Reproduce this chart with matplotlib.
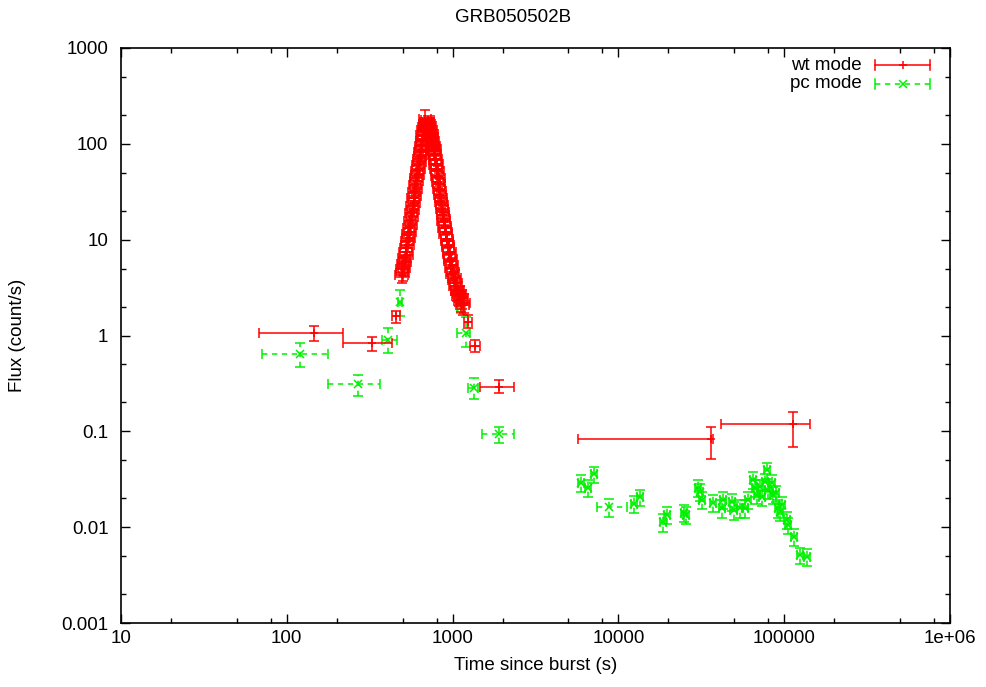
import matplotlib
matplotlib.use("Agg")
import matplotlib.pyplot as plt
import numpy as np
from matplotlib.ticker import FixedLocator, FixedFormatter, NullFormatter

plt.rcParams['font.family'] = ['Liberation Sans', 'DejaVu Sans']

# ---------------- data ----------------
title = "GRB050502B"
xlabel = "Time since burst (s)"
ylabel = "Flux (count/s)"
series_names = ["wt mode", "pc mode"]

# wt mode: isolated points (asymmetric errors)
wt_t   = [146, 327, 456, 1239, 1365, 1905, 36200, 113000]
wt_tlo = [68, 218, 431, 1170, 1280, 1462, 5700, 41600]
wt_thi = [218, 431, 482, 1310, 1460, 2344, 37000, 143000]
wt_f   = [1.06, 0.83, 1.6, 1.38, 0.78, 0.29, 0.083, 0.119]
wt_flo = [0.877, 0.689, 1.36, 1.20, 0.67, 0.25, 0.0514, 0.0686]
wt_fhi = [1.26, 0.964, 1.8, 1.64, 0.90, 0.343, 0.111, 0.159]

# wt mode: flare
flare_t = [494, 497, 501, 505, 509, 513, 517, 521, 525, 529, 533, 537,
           541, 545, 549, 553, 557, 561, 565, 569, 573, 577, 581, 585, 589, 593,
           597, 601, 605, 609, 613, 617, 621, 625, 629, 633, 637, 641, 645, 649,
           653, 657, 661, 665, 669, 673, 677, 682, 685, 689, 693, 697,
           700, 704, 708, 712, 716, 720, 724, 728, 732, 736, 740, 744, 748, 752,
           756, 760, 764, 768, 772, 776, 780, 784, 788, 792, 796, 800, 805, 810,
           815, 820, 825, 830, 835, 840, 845, 850, 856, 862, 868, 874, 880, 886,
           892, 898, 904, 910, 917, 924, 931, 938, 945, 952, 960, 968, 976, 984,
           992, 1000, 1010, 1020, 1030, 1040, 1052, 1064, 1076, 1090, 1104, 1118,
           1134, 1150, 1168]
flare_f = [4.3, 4.9, 4.5, 5.6, 5.1, 6.4, 5.8, 7.4, 8.1, 7.0, 9.6, 8.8,
           11.5, 10.4, 13.2, 12.0, 15.8, 14.1, 19.0, 17.2, 22.5, 20.4, 27.0, 24.3, 31.5, 28.8,
           37.0, 34.0, 44.0, 40.5, 52.0, 47.0, 60.0, 55.0, 70.0, 64.0, 82.0, 74.0, 95.0, 86.0,
           108.0, 98.0, 125.0, 112.0, 138.0, 120.0, 150.0, 180.0, 162.0, 140.0, 170.0, 150.0,
           165, 140, 178, 150, 168, 135, 160, 128, 152, 118, 140, 110, 128, 100,
           118, 92, 106, 84, 96, 76, 88, 68, 78, 60, 70, 54, 62, 46,
           52, 40, 44, 34, 38, 29, 32, 25, 27, 21, 23, 18, 19.5, 15.5,
           16.5, 13.2, 14.0, 11.4, 12.0, 9.8, 10.2, 8.3, 8.7, 7.1, 7.4, 6.0, 6.3, 5.1,
           5.4, 4.4, 4.6, 3.8, 4.0, 3.3, 3.5, 2.9, 3.0, 2.6, 2.7, 2.3,
           2.45, 2.1, 2.2]
flare_e = [0.8, 0.85, 0.8, 0.95, 0.9, 1.1, 1.0, 1.2, 1.3, 1.15, 1.5, 1.4,
           1.7, 1.6, 1.9, 1.8, 2.2, 2.0, 2.6, 2.4, 3.0, 2.8, 3.5, 3.2, 4.0, 3.7,
           4.6, 4.3, 5.3, 5.0, 6.2, 5.7, 7.0, 6.5, 8.0, 7.4, 9.2, 8.4, 10.5, 9.6,
           11.8, 10.9, 13.5, 12.2, 14.8, 13.0, 16.0, 45.0, 17.0, 15.0, 18.0, 16.0,
           17.5, 15.0, 18.5, 16.0, 17.8, 14.6, 17.0, 14.0, 16.2, 13.0, 15.0, 12.2, 14.0, 11.2,
           13.0, 10.4, 11.8, 9.6, 10.8, 8.8, 10.0, 8.0, 9.0, 7.2, 8.2, 6.6, 7.4, 5.8,
           6.4, 5.1, 5.5, 4.5, 4.9, 3.9, 4.2, 3.4, 3.7, 3.0, 3.2, 2.6, 2.8, 2.3,
           2.4, 2.0, 2.1, 1.8, 1.9, 1.6, 1.65, 1.4, 1.45, 1.25, 1.3, 1.1, 1.15, 0.95,
           1.0, 0.85, 0.9, 0.75, 0.8, 0.68, 0.72, 0.62, 0.64, 0.56, 0.58, 0.52,
           0.55, 0.48, 0.5]
flare_dt_frac = 0.085   # horizontal half-width of the flare bins (fraction of t)

# pc mode: early points (asymmetric errors)
pc_t   = [120, 268, 407, 482, 1125, 1205, 1346, 1905]
pc_tlo = [70.8, 177, 375, 470, 1060, 1060, 1240, 1500]
pc_thi = [177, 365, 462, 495, 1190, 1280, 1420, 2344]
pc_f   = [0.64, 0.31, 0.90, 2.24, 1.98, 1.06, 0.283, 0.094]
pc_flo = [0.469, 0.232, 0.65, 1.6, 1.7, 0.76, 0.215, 0.075]
pc_fhi = [0.835, 0.391, 1.2, 3.0, 2.8, 1.57, 0.36, 0.112]

# pc mode: late points
pcl_t = [5945, 6560, 7130, 8770, 12420, 13490, 18580, 19630, 24870, 25570,
         30200, 31050, 31920, 37200, 42170, 42770, 48440, 49500, 54100, 58000,
         60500, 64860, 66680, 68550, 71450, 73470, 76560, 78700, 79800, 84370,
         85500, 89250, 91750, 94320, 97000, 104000, 105400, 114600, 124500, 137400]
pcl_f = [0.0289, 0.0256, 0.0359, 0.0162, 0.0175, 0.0206, 0.0113, 0.0134, 0.0141, 0.0134,
         0.0256, 0.0235, 0.0192, 0.0179, 0.0158, 0.0192, 0.0183, 0.0151, 0.0158, 0.0158,
         0.0192, 0.0311, 0.0256, 0.0217, 0.0262, 0.0206, 0.0296, 0.0395, 0.0244, 0.0289,
         0.0217, 0.0227, 0.0158, 0.0144, 0.0170, 0.0119, 0.0105, 0.0079, 0.0051, 0.0049]
pcl_e = [0.0058, 0.0052, 0.0068, 0.0033, 0.0036, 0.0041, 0.0024, 0.0027, 0.0028, 0.0027,
         0.0052, 0.0047, 0.0039, 0.0036, 0.0032, 0.0039, 0.0037, 0.0031, 0.0032, 0.0032,
         0.0039, 0.0062, 0.0051, 0.0044, 0.0052, 0.0041, 0.0059, 0.0075, 0.0049, 0.0058,
         0.0044, 0.0045, 0.0032, 0.0029, 0.0034, 0.0024, 0.0021, 0.0016, 0.0010, 0.0010]
pcl_dtlo = [250, 280, 300, 1340, 520, 560, 780, 820, 1040, 1070,
            1260, 1300, 1330, 1560, 1760, 1790, 2020, 2070, 2260, 2420,
            2530, 2710, 2790, 2870, 2990, 3070, 3200, 3290, 3340, 3530,
            3580, 3730, 3840, 3940, 4060, 4350, 4410, 4790, 5210, 5750]
pcl_dthi = [250, 280, 300, 2500, 520, 560, 780, 820, 1040, 1070,
            1260, 1300, 1330, 1560, 1760, 1790, 2020, 2070, 2260, 2420,
            2530, 2710, 2790, 2870, 2990, 3070, 3200, 3290, 3340, 3530,
            3580, 3730, 3840, 3940, 4060, 4350, 4410, 4790, 5210, 5750]

xticks = [10, 100, 1000, 10000, 100000, 1000000]
xticklabels = ["10", "100", "1000", "10000", "100000", "1e+06"]
yticks = [0.001, 0.01, 0.1, 1, 10, 100, 1000]
yticklabels = ["0.001", "0.01", "0.1", "1", "10", "100", "1000"]

# ---------------- plot ----------------
RED = "#ff0000"
GREEN = "#00f000"
FS = 13.5
W, H = 987, 687

fig = plt.figure(figsize=(W / 100, H / 100), dpi=100)
ax = fig.add_axes([121/W, 1-623/H, 829/W, 575/H])
ax.set_xscale("log")
ax.set_yscale("log")
ax.set_xlim(10, 1e6)
ax.set_ylim(1e-3, 1e3)


def draw(t, f, xl, xh, yl, yh, color, marker, dashed):
    t = np.asarray(t, float); f = np.asarray(f, float)
    n = t.shape
    xerr = np.vstack([np.broadcast_to(np.asarray(xl, float), n),
                      np.broadcast_to(np.asarray(xh, float), n)])
    yerr = np.vstack([np.broadcast_to(np.asarray(yl, float), n),
                      np.broadcast_to(np.asarray(yh, float), n)])
    cont = ax.errorbar(t, f, xerr=xerr, yerr=yerr, fmt=marker, color=color,
                       ecolor=color, elinewidth=1.1, capsize=3.3, capthick=1.1,
                       markersize=6, markeredgewidth=1.1, zorder=3 if color == RED else 2)
    if dashed:
        for lc in cont[2]:
            lc.set_linestyle((0, (3.5, 3.0)))
    return cont

# pc mode
pt = np.asarray(pc_t, float)
draw(pt, pc_f, pt - np.asarray(pc_tlo), np.asarray(pc_thi) - pt,
     np.asarray(pc_f) - np.asarray(pc_flo), np.asarray(pc_fhi) - np.asarray(pc_f),
     GREEN, "x", True)
draw(pcl_t, pcl_f, pcl_dtlo, pcl_dthi, pcl_e, pcl_e, GREEN, "x", True)

# wt mode
wt = np.asarray(wt_t, float)
draw(wt, wt_f, wt - np.asarray(wt_tlo), np.asarray(wt_thi) - wt,
     np.asarray(wt_f) - np.asarray(wt_flo), np.asarray(wt_fhi) - np.asarray(wt_f),
     RED, "+", False)
ft = np.asarray(flare_t, float)
draw(ft, flare_f, ft * flare_dt_frac, ft * flare_dt_frac, flare_e, flare_e, RED, "+", False)

# ticks
ax.xaxis.set_major_locator(FixedLocator(xticks))
ax.xaxis.set_major_formatter(FixedFormatter(xticklabels))
ax.yaxis.set_major_locator(FixedLocator(yticks))
ax.yaxis.set_major_formatter(FixedFormatter(yticklabels))
xminor = [m * 10.0 ** k for k in range(1, 6) for m in (2, 5, 8)]
yminor = [m * 10.0 ** k for k in range(-3, 3) for m in (2, 5)]
ax.xaxis.set_minor_locator(FixedLocator(xminor))
ax.yaxis.set_minor_locator(FixedLocator(yminor))
ax.xaxis.set_minor_formatter(NullFormatter())
ax.yaxis.set_minor_formatter(NullFormatter())
ax.tick_params(which="both", direction="in", top=True, right=True,
               labelsize=FS, width=1.0, colors="black")
ax.tick_params(which="major", length=6.5)
ax.tick_params(which="minor", length=3.3)
ax.tick_params(axis="x", which="major", pad=5)
ax.tick_params(axis="y", which="major", pad=9)
for s in ax.spines.values():
    s.set_linewidth(1.2)

fig.text(513/W, 1-18/H, title, ha="center", va="center", fontsize=FS)
fig.text(536/W, 1-665/H, xlabel, ha="center", va="center", fontsize=FS)
fig.text(18/W, 1-335/H, ylabel, ha="center", va="center", rotation=90, fontsize=FS)

# gnuplot-style key
tr = ax.transAxes
kx0, kx1, kxm = (875-121)/829, (930-121)/829, (903-121)/829
for name, ky, col, mk, ls in [(series_names[0], (623-65)/575, RED, "+", "-"),
                              (series_names[1], (623-84)/575, GREEN, "x", (0, (3.5, 3.0)))]:
    ax.text((862-121)/829, ky, name, transform=tr, ha="right", va="center", fontsize=FS)
    ax.plot([kx0, kx1], [ky, ky], transform=tr, color=col, lw=1.1, ls=ls, clip_on=False)
    ax.plot([kx0, kx0], [ky - 0.008, ky + 0.008], transform=tr, color=col, lw=1.1, clip_on=False)
    ax.plot([kx1, kx1], [ky - 0.008, ky + 0.008], transform=tr, color=col, lw=1.1, clip_on=False)
    ax.plot([kxm], [ky], transform=tr, color=col, marker=mk, ms=6, mew=1.1, clip_on=False)

fig.savefig("out.png", dpi=100)
